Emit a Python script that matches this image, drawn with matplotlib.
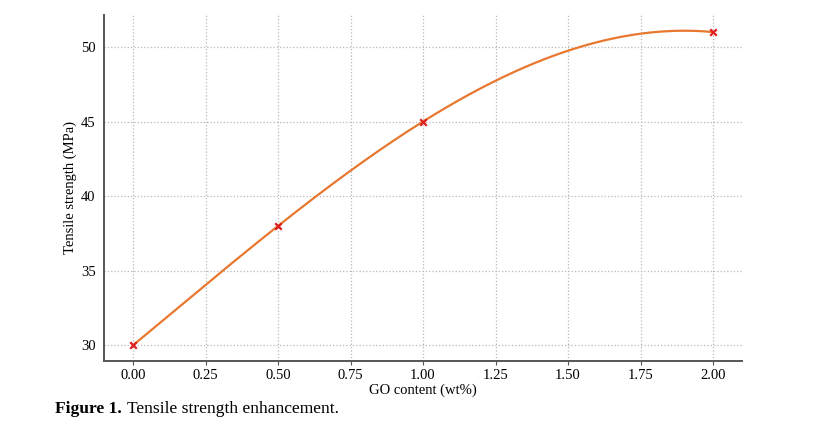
import numpy as np
from matplotlib import pyplot as plt

go_content = [0.0, 0.5, 1.0, 2.0]
strength = [30, 38, 45, 51]

x_ticks = [0.00, 0.25, 0.50, 0.75, 1.00, 1.25, 1.50, 1.75, 2.00]
y_ticks = [30, 35, 40, 45, 50]

# smooth curve through the four measured points (cubic through 4 pts)
coef = np.polyfit(go_content, strength, 3)
xs = np.linspace(min(go_content), max(go_content), 300)
ys = np.polyval(coef, xs)

plt.rcParams['font.family'] = ['Liberation Serif', 'DejaVu Serif']

fig = plt.figure(figsize=(8.18, 4.26), dpi=100)
ax = fig.add_axes([104/818, 1 - 361/426, (742-104)/818, (361-15)/426])

ax.plot(xs, ys, color='#e8782f', linewidth=1.6, zorder=3)
ax.scatter(go_content, strength, marker='x', color='#e0201e', s=22,
           linewidths=1.6, zorder=4)

ax.grid(linestyle=':', linewidth=0.9, color='#b8b8b8')
ax.set_xticks(x_ticks)
ax.set_xticklabels([f'{t:.2f}' for t in x_ticks])
ax.set_yticks(y_ticks)
ax.tick_params(labelsize=10.5, color='#555555', length=3)
ax.tick_params(axis='x', pad=2.5)
ax.tick_params(axis='y', length=0, pad=6)
for s in ['top', 'right']:
    ax.spines[s].set_visible(False)
for s in ['left', 'bottom']:
    ax.spines[s].set_color('#555555')
    ax.spines[s].set_linewidth(1.4)

ax.set_xlabel('GO content (wt%)', fontsize=10.5, labelpad=1)
ax.set_ylabel('Tensile strength (MPa)', fontsize=10.5, labelpad=3)

cy = 1 - 409/426
fig.text(55/818, cy, 'Figure 1.', fontsize=12.6, va='center',
         fontweight='bold')
fig.text(127/818, cy, 'Tensile strength enhancement.', fontsize=12.6,
         va='center')

fig.savefig('out.png', dpi=100)
